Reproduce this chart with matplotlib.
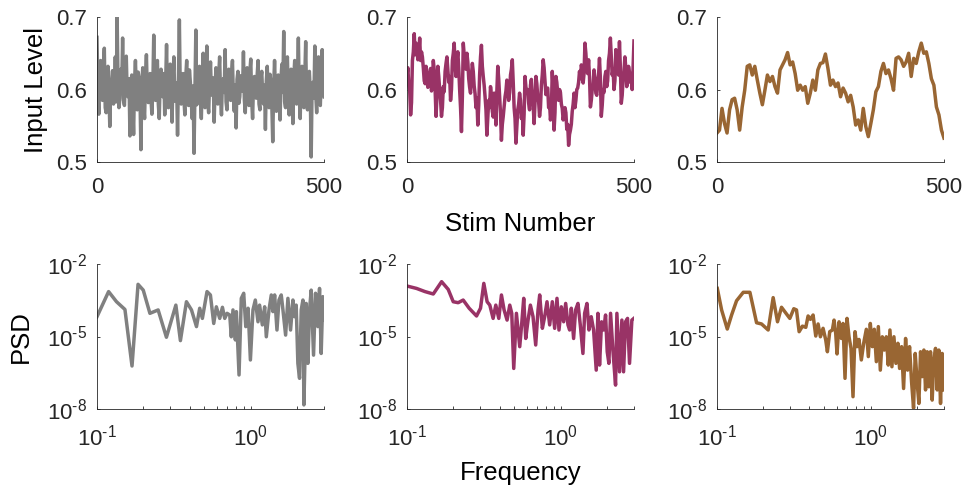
import numpy as np
import matplotlib
matplotlib.use("Agg")
import matplotlib.pyplot as plt
from matplotlib.ticker import FixedLocator, NullLocator, LogLocator, NullFormatter

plt.rcParams["font.family"] = ["Liberation Sans", "DejaVu Sans"]
plt.rcParams["mathtext.fontset"] = "custom"
plt.rcParams["mathtext.rm"] = "Liberation Sans"
plt.rcParams["mathtext.default"] = "regular"

# colours of the three conditions
colors = ["#808080", "#993366", "#996633"]

# input level per stimulus (every ~2nd stim)
gray_level = [
    0.672, 0.598, 0.566, 0.621, 0.640, 0.590, 0.585, 0.628, 0.657, 0.575,
    0.568, 0.612, 0.632, 0.596, 0.549, 0.604, 0.612, 0.626, 0.580, 0.592,
    0.645, 0.583, 0.700, 0.606, 0.575, 0.588, 0.628, 0.598, 0.671, 0.585,
    0.578, 0.620, 0.646, 0.592, 0.590, 0.615, 0.536, 0.602, 0.620, 0.581,
    0.538, 0.610, 0.640, 0.597, 0.572, 0.624, 0.615, 0.589, 0.517, 0.607,
    0.630, 0.578, 0.560, 0.618, 0.648, 0.594, 0.582, 0.612, 0.622, 0.586,
    0.566, 0.603, 0.675, 0.598, 0.585, 0.626, 0.640, 0.580, 0.560, 0.611,
    0.628, 0.593, 0.590, 0.622, 0.565, 0.608, 0.662, 0.588, 0.575, 0.617,
    0.635, 0.600, 0.555, 0.614, 0.645, 0.584, 0.592, 0.609, 0.537, 0.619,
    0.696, 0.595, 0.580, 0.612, 0.622, 0.586, 0.565, 0.617, 0.640, 0.591,
    0.578, 0.627, 0.610, 0.583, 0.560, 0.605, 0.512, 0.596, 0.682, 0.579,
    0.590, 0.621, 0.632, 0.587, 0.560, 0.613, 0.650, 0.597, 0.575, 0.619,
    0.660, 0.582, 0.568, 0.608, 0.638, 0.594, 0.592, 0.616, 0.555, 0.603,
    0.630, 0.585, 0.580, 0.620, 0.645, 0.590, 0.565, 0.611, 0.615, 0.596,
    0.655, 0.583, 0.572, 0.618, 0.628, 0.592, 0.585, 0.622, 0.640, 0.589,
    0.570, 0.606, 0.547, 0.614, 0.625, 0.581, 0.590, 0.619, 0.612, 0.598,
    0.652, 0.586, 0.568, 0.613, 0.630, 0.590, 0.578, 0.624, 0.642, 0.585,
    0.560, 0.609, 0.618, 0.596, 0.588, 0.620, 0.640, 0.580, 0.572, 0.615,
    0.625, 0.592, 0.580, 0.606, 0.545, 0.612, 0.632, 0.588, 0.575, 0.621,
    0.610, 0.579, 0.528, 0.603, 0.640, 0.594, 0.570, 0.618, 0.620, 0.587,
    0.558, 0.614, 0.635, 0.596, 0.680, 0.583, 0.575, 0.623, 0.645, 0.590,
    0.565, 0.608, 0.628, 0.598, 0.553, 0.617, 0.640, 0.586, 0.580, 0.612,
    0.671, 0.590, 0.560, 0.621, 0.632, 0.595, 0.575, 0.616, 0.666, 0.584,
    0.572, 0.611, 0.625, 0.597, 0.507, 0.605, 0.610, 0.588, 0.660, 0.593,
    0.568, 0.619, 0.645, 0.586, 0.578, 0.622, 0.655, 0.594, 0.590,
]
magenta_level = [
    0.620, 0.630, 0.605, 0.598, 0.565, 0.582, 0.640, 0.652, 0.677, 0.648,
    0.664, 0.655, 0.641, 0.650, 0.671, 0.640, 0.652, 0.645, 0.630, 0.612,
    0.608, 0.632, 0.622, 0.603, 0.610, 0.618, 0.629, 0.598, 0.612, 0.640,
    0.627, 0.600, 0.563, 0.590, 0.632, 0.618, 0.600, 0.585, 0.563, 0.575,
    0.604, 0.597, 0.625, 0.636, 0.645, 0.628, 0.610, 0.618, 0.585, 0.600,
    0.640, 0.650, 0.664, 0.633, 0.618, 0.640, 0.652, 0.630, 0.600, 0.575,
    0.542, 0.590, 0.664, 0.648, 0.640, 0.628, 0.650, 0.638, 0.615, 0.603,
    0.595, 0.620, 0.636, 0.625, 0.605, 0.594, 0.575, 0.588, 0.551, 0.578,
    0.620, 0.645, 0.661, 0.632, 0.618, 0.606, 0.590, 0.572, 0.537, 0.560,
    0.585, 0.575, 0.604, 0.592, 0.570, 0.562, 0.595, 0.580, 0.551, 0.598,
    0.632, 0.615, 0.590, 0.567, 0.530, 0.552, 0.563, 0.576, 0.590, 0.598,
    0.613, 0.602, 0.585, 0.596, 0.620, 0.628, 0.641, 0.610, 0.575, 0.560,
    0.526, 0.548, 0.572, 0.580, 0.595, 0.585, 0.560, 0.571, 0.537, 0.566,
    0.618, 0.603, 0.595, 0.600, 0.581, 0.572, 0.606, 0.614, 0.590, 0.578,
    0.553, 0.582, 0.618, 0.608, 0.590, 0.583, 0.563, 0.575, 0.605, 0.620,
    0.641, 0.630, 0.612, 0.593, 0.600, 0.602, 0.575, 0.582, 0.558, 0.570,
    0.625, 0.600, 0.544, 0.568, 0.618, 0.610, 0.595, 0.585, 0.600, 0.596,
    0.580, 0.574, 0.558, 0.566, 0.575, 0.568, 0.545, 0.552, 0.523, 0.538,
    0.544, 0.552, 0.570, 0.580, 0.595, 0.575, 0.585, 0.600, 0.602, 0.610,
    0.625, 0.615, 0.634, 0.628, 0.609, 0.622, 0.664, 0.650, 0.630, 0.622,
    0.641, 0.618, 0.576, 0.585, 0.600, 0.606, 0.627, 0.615, 0.595, 0.592,
    0.609, 0.620, 0.643, 0.615, 0.563, 0.578, 0.600, 0.596, 0.618, 0.625,
    0.604, 0.612, 0.640, 0.650, 0.671, 0.645, 0.620, 0.628, 0.600, 0.612,
    0.655, 0.640, 0.630, 0.620, 0.666, 0.630, 0.581, 0.592, 0.615, 0.625,
    0.645, 0.630, 0.604, 0.612, 0.632, 0.624, 0.610, 0.615, 0.600, 0.630,
    0.667,
]
brown_level = [
    0.540, 0.544, 0.574, 0.553, 0.540, 0.572, 0.586, 0.588, 0.572, 0.544,
    0.576, 0.599, 0.632, 0.634, 0.620, 0.632, 0.613, 0.595, 0.579, 0.599,
    0.620, 0.611, 0.618, 0.604, 0.595, 0.627, 0.634, 0.641, 0.651, 0.634,
    0.638, 0.622, 0.599, 0.606, 0.599, 0.604, 0.581, 0.595, 0.613, 0.599,
    0.627, 0.636, 0.637, 0.649, 0.629, 0.606, 0.613, 0.604, 0.609, 0.590,
    0.602, 0.595, 0.583, 0.592, 0.576, 0.551, 0.558, 0.544, 0.574, 0.549,
    0.535, 0.553, 0.572, 0.597, 0.604, 0.625, 0.636, 0.622, 0.627, 0.615,
    0.599, 0.643, 0.645, 0.641, 0.632, 0.638, 0.650, 0.618, 0.643, 0.636,
    0.652, 0.664, 0.650, 0.652, 0.636, 0.615, 0.606, 0.576, 0.565, 0.544,
    0.533,
]

# power spectra: frequency and log10(PSD)
gray_freq = [
    0.100, 0.119, 0.134, 0.152, 0.169, 0.185, 0.200, 0.221, 0.250, 0.283,
    0.326, 0.349, 0.382, 0.412, 0.444, 0.466, 0.485, 0.520, 0.547, 0.575,
    0.598, 0.629, 0.655, 0.678, 0.702, 0.731, 0.748, 0.767, 0.795, 0.807,
    0.840, 0.869, 0.901, 0.929, 0.962, 0.996, 1.035, 1.072, 1.116, 1.143,
    1.191, 1.233, 1.264, 1.316, 1.362, 1.396, 1.432, 1.483, 1.528, 1.581,
    1.622, 1.688, 1.747, 1.818, 1.883, 1.931, 1.978, 2.028, 2.080, 2.133,
    2.188, 2.220, 2.297, 2.356, 2.415, 2.477, 2.565, 2.643, 2.737, 2.806,
    2.876, 2.948, 3.000,
]
gray_psd_log = [
    -4.18, -3.14, -3.56, -3.88, -6.22, -2.84, -3.08, -4.04, -3.90, -5.03,
    -3.70, -5.17, -3.56, -3.90, -4.59, -3.83, -4.25, -3.14, -3.28, -4.46,
    -3.77, -4.25, -3.79, -4.25, -4.04, -4.11, -5.01, -3.90, -5.14, -3.97,
    -6.59, -3.42, -3.21, -4.59, -3.83, -5.97, -3.90, -3.49, -4.39, -3.70,
    -4.52, -3.77, -5.01, -3.90, -3.28, -3.97, -3.28, -4.73, -3.49, -3.28,
    -3.90, -4.94, -3.42, -4.73, -3.49, -4.18, -3.70, -6.11, -6.73, -3.90,
    -3.49, -7.83, -3.63, -6.11, -3.90, -3.08, -5.77, -3.21, -4.59, -3.01,
    -5.70, -3.35, -4.32,
]
magenta_freq = [
    0.100, 0.1155, 0.1309, 0.1483, 0.1680, 0.1855, 0.2000, 0.2154, 0.2321, 0.2539,
    0.2835, 0.3009, 0.3162, 0.3323, 0.3459, 0.3635, 0.3784, 0.3958, 0.4118, 0.4285,
    0.4481, 0.4665, 0.4806, 0.4951, 0.5153, 0.5416, 0.5581, 0.5750, 0.5925, 0.6135,
    0.6353, 0.6611, 0.6880, 0.7124, 0.7305, 0.7602, 0.7870, 0.8150, 0.8482, 0.8826,
    0.9140, 0.9465, 0.9752, 1.010, 1.046, 1.078, 1.116, 1.144, 1.173, 1.214,
    1.251, 1.296, 1.342, 1.396, 1.432, 1.483, 1.528, 1.581, 1.638, 1.704,
    1.747, 1.791, 1.846, 1.902, 1.960, 2.009, 2.060, 2.112, 2.187, 2.276,
    2.322, 2.416, 2.502, 2.566, 2.643, 2.724, 2.806, 2.906, 2.994,
]
magenta_psd_log = [
    -2.91, -3.01, -3.14, -3.24, -2.73, -3.05, -3.56, -3.60, -3.49, -3.83,
    -4.15, -3.83, -2.80, -3.56, -3.70, -4.25, -3.70, -4.25, -3.28, -3.90,
    -4.32, -3.70, -4.04, -6.32, -4.04, -5.42, -4.46, -3.42, -5.08, -4.32,
    -3.70, -4.18, -5.35, -3.90, -3.28, -4.66, -4.18, -3.56, -4.52, -3.56,
    -4.66, -3.42, -4.73, -3.77, -4.39, -3.63, -4.52, -4.73, -3.83, -5.08,
    -3.90, -3.63, -4.52, -5.70, -4.04, -3.63, -4.73, -4.18, -4.73, -6.39,
    -4.04, -6.18, -4.39, -4.73, -4.11, -5.63, -6.11, -4.04, -5.56, -7.01,
    -4.04, -6.46, -4.32, -6.46, -4.39, -4.25, -6.11, -4.32, -4.25,
]
brown_freq = [
    0.1005, 0.1072, 0.1167, 0.1245, 0.1341, 0.1483, 0.1638, 0.1810, 0.1950, 0.2154,
    0.2321, 0.2477, 0.2630, 0.2979, 0.3162, 0.3292, 0.3425, 0.3599, 0.3784, 0.3918,
    0.4057, 0.4221, 0.4394, 0.4550, 0.4711, 0.4902, 0.5102, 0.5230, 0.5416, 0.5637,
    0.5779, 0.5925, 0.6044, 0.6228, 0.6448, 0.6611, 0.6811, 0.7018, 0.7231, 0.7451,
    0.7677, 0.7910, 0.8150, 0.8399, 0.8697, 0.9007, 0.9373, 0.9658, 0.9950, 1.025,
    1.056, 1.089, 1.122, 1.156, 1.191, 1.227, 1.264, 1.302, 1.335, 1.375,
    1.417, 1.460, 1.504, 1.543, 1.590, 1.638, 1.688, 1.739, 1.791, 1.846,
    1.902, 1.950, 2.009, 2.060, 2.112, 2.165, 2.220, 2.276, 2.333, 2.392,
    2.452, 2.514, 2.578, 2.643, 2.710, 2.778, 2.849, 2.920, 2.994,
]
brown_psd_log = [
    -3.01, -3.90, -4.69, -4.11, -3.52, -3.17, -3.17, -4.43, -4.48, -4.73,
    -3.39, -4.39, -3.79, -4.25, -3.85, -3.90, -4.80, -4.57, -4.62, -4.15,
    -4.29, -4.11, -4.98, -4.48, -5.01, -4.66, -5.14, -5.63, -4.80, -4.73,
    -4.32, -4.87, -5.72, -4.39, -5.08, -4.46, -6.73, -4.25, -5.01, -5.49,
    -7.49, -4.80, -5.42, -5.12, -5.97, -5.28, -4.70, -5.83, -4.46, -5.42,
    -4.70, -6.04, -4.59, -6.39, -5.01, -5.56, -5.01, -6.18, -4.73, -6.25,
    -5.01, -6.11, -5.28, -6.32, -5.42, -7.15, -5.08, -6.39, -5.42, -6.87,
    -7.97, -5.70, -6.94, -7.77, -5.63, -6.66, -5.56, -7.21, -5.63, -7.08,
    -5.63, -7.63, -5.97, -5.49, -7.21, -5.56, -7.77, -5.70, -7.21,
]

levels = [gray_level, magenta_level, brown_level]
freqs = [gray_freq, magenta_freq, brown_freq]
psds = [gray_psd_log, magenta_psd_log, brown_psd_log]

level_ticks = [0.5, 0.6, 0.7]
stim_ticks = [0, 500]
psd_ticks = [1e-8, 1e-5, 1e-2]
psd_ticklabels = [r"$10^{\text{-}8}$", r"$10^{\text{-}5}$", r"$10^{\text{-}2}$"]
freq_ticks = [0.1, 1.0]
freq_ticklabels = [r"$10^{\text{-}1}$", r"$10^{0}$"]

fig = plt.figure(figsize=(9.66, 4.95), dpi=100)

lefts = [0.1004, 0.4213, 0.7422]
width, height = 0.235, 0.2929
axis_col = "#262626"
label_size = 18.5
lw = 2.5


def style(ax):
    for s in ["top", "right"]:
        ax.spines[s].set_visible(False)
    for s in ["left", "bottom"]:
        ax.spines[s].set_color(axis_col)
        ax.spines[s].set_linewidth(0.6)
    ax.tick_params(which="both", direction="in", length=2.5, width=0.6,
                   colors=axis_col, labelsize=16)
    ax.tick_params(axis="y", pad=7)
    ax.tick_params(axis="x", pad=11)


for k in range(3):
    ax = fig.add_axes([lefts[k], 0.6727, width, height])
    y = levels[k]
    x = np.linspace(0, 500, len(y))
    ax.plot(x, y, color=colors[k], lw=lw, solid_joinstyle="round")
    ax.set_xlim(0, 500)
    ax.set_ylim(0.5, 0.7)
    ax.set_xticks(stim_ticks)
    ax.set_yticks(level_ticks)
    ax.set_yticklabels([str(t) for t in level_ticks])
    style(ax)
    if k == 0:
        ax.set_ylabel("Input Level", fontsize=label_size, labelpad=6)
    if k == 1:
        ax.set_xlabel("Stim Number", fontsize=label_size, labelpad=10)

    bx = fig.add_axes([lefts[k], 0.1737, width, height])
    bx.plot(freqs[k], 10 ** np.array(psds[k]), color=colors[k], lw=lw,
            solid_joinstyle="round")
    bx.set_xscale("log")
    bx.set_yscale("log")
    bx.set_xlim(0.1, 3.0)
    bx.set_ylim(1e-8, 1e-2)
    bx.xaxis.set_major_locator(FixedLocator(freq_ticks))
    bx.set_xticklabels(freq_ticklabels)
    bx.xaxis.set_minor_locator(LogLocator(base=10, subs=np.arange(2, 10)))
    bx.xaxis.set_minor_formatter(NullFormatter())
    bx.yaxis.set_major_locator(FixedLocator(psd_ticks))
    bx.set_yticklabels(psd_ticklabels)
    bx.yaxis.set_minor_locator(NullLocator())
    style(bx)
    if k == 0:
        bx.set_ylabel("PSD", fontsize=label_size, labelpad=10)
    if k == 1:
        bx.set_xlabel("Frequency", fontsize=label_size, labelpad=8)

fig.savefig("out.png", dpi=100)
